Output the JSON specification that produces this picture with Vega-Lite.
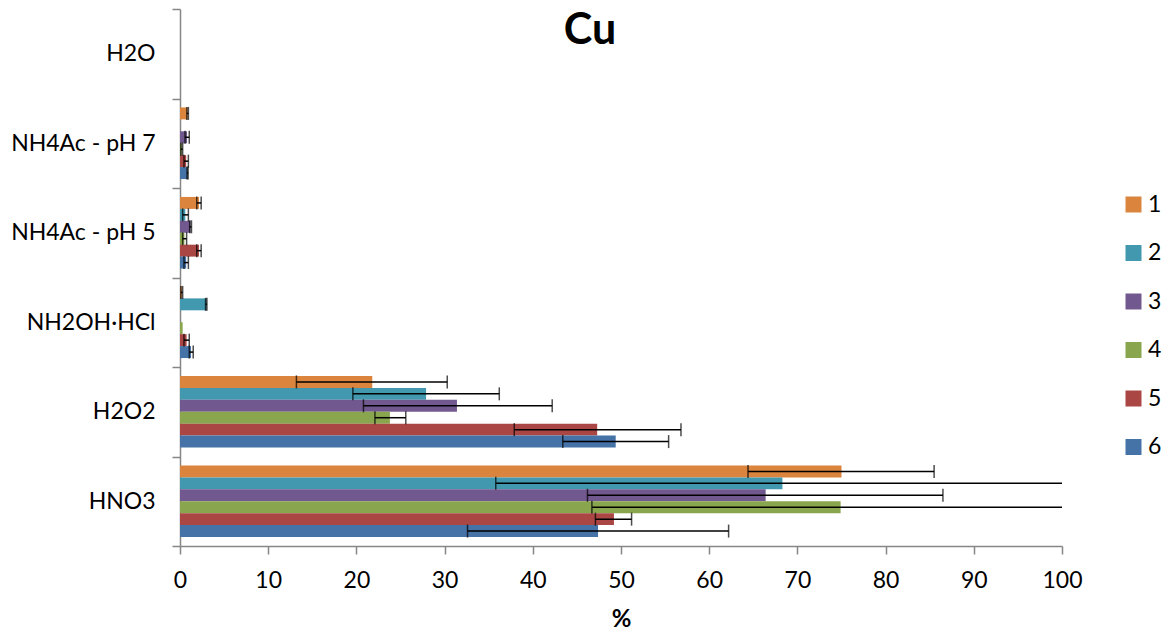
{
  "$schema": "https://vega.github.io/schema/vega-lite/v6.json",
  "width": 882,
  "height": 537,
  "autosize": {"type": "none"},
  "padding": {"left": 180, "top": 9, "right": 106, "bottom": 89},
  "background": "white",
  "config": {"view": {"stroke": null}, "font": "Lato"},
  "title": {"text": "Cu", "font": "Lato", "fontSize": 43, "fontWeight": "bold", "color": "#000000", "anchor": "middle", "offset": 0, "baseline": "alphabetic", "dx": -31, "dy": 89},
  "data": {
    "values": [
      {"category": "H2O", "series": "1", "value": 0},
      {"category": "H2O", "series": "2", "value": 0},
      {"category": "H2O", "series": "3", "value": 0},
      {"category": "H2O", "series": "4", "value": 0},
      {"category": "H2O", "series": "5", "value": 0},
      {"category": "H2O", "series": "6", "value": 0},
      {"category": "NH4Ac - pH 7", "series": "1", "value": 0.85, "lo": 0.78, "hi": 0.95},
      {"category": "NH4Ac - pH 7", "series": "2", "value": 0},
      {"category": "NH4Ac - pH 7", "series": "3", "value": 0.8, "lo": 0.57, "hi": 1.05},
      {"category": "NH4Ac - pH 7", "series": "4", "value": 0.2, "lo": 0.1, "hi": 0.3},
      {"category": "NH4Ac - pH 7", "series": "5", "value": 0.7, "lo": 0.45, "hi": 0.95},
      {"category": "NH4Ac - pH 7", "series": "6", "value": 0.85, "lo": 0.8, "hi": 0.92},
      {"category": "NH4Ac - pH 5", "series": "1", "value": 2.15, "lo": 1.9, "hi": 2.4},
      {"category": "NH4Ac - pH 5", "series": "2", "value": 0.6, "lo": 0.3, "hi": 0.95},
      {"category": "NH4Ac - pH 5", "series": "3", "value": 1.2, "lo": 1.1, "hi": 1.3},
      {"category": "NH4Ac - pH 5", "series": "4", "value": 0.5, "lo": 0.3, "hi": 0.75},
      {"category": "NH4Ac - pH 5", "series": "5", "value": 2.15, "lo": 1.9, "hi": 2.4},
      {"category": "NH4Ac - pH 5", "series": "6", "value": 0.7, "lo": 0.45, "hi": 0.95},
      {"category": "NH2OH·HCl", "series": "1", "value": 0.2, "lo": 0.1, "hi": 0.3},
      {"category": "NH2OH·HCl", "series": "2", "value": 3.0, "lo": 2.9, "hi": 3.05},
      {"category": "NH2OH·HCl", "series": "3", "value": 0},
      {"category": "NH2OH·HCl", "series": "4", "value": 0.3},
      {"category": "NH2OH·HCl", "series": "5", "value": 0.75, "lo": 0.45, "hi": 1.05},
      {"category": "NH2OH·HCl", "series": "6", "value": 1.25, "lo": 1.05, "hi": 1.5},
      {"category": "H2O2", "series": "1", "value": 21.8, "lo": 13.2, "hi": 30.3},
      {"category": "H2O2", "series": "2", "value": 27.9, "lo": 19.6, "hi": 36.2},
      {"category": "H2O2", "series": "3", "value": 31.4, "lo": 20.8, "hi": 42.2},
      {"category": "H2O2", "series": "4", "value": 23.8, "lo": 22.1, "hi": 25.6},
      {"category": "H2O2", "series": "5", "value": 47.3, "lo": 37.9, "hi": 56.8},
      {"category": "H2O2", "series": "6", "value": 49.4, "lo": 43.4, "hi": 55.4},
      {"category": "HNO3", "series": "1", "value": 75.0, "lo": 64.4, "hi": 85.5},
      {"category": "HNO3", "series": "2", "value": 68.3, "lo": 35.8, "hi": 100.8},
      {"category": "HNO3", "series": "3", "value": 66.4, "lo": 46.2, "hi": 86.5},
      {"category": "HNO3", "series": "4", "value": 74.9, "lo": 46.7, "hi": 103.1},
      {"category": "HNO3", "series": "5", "value": 49.2, "lo": 47.1, "hi": 51.2},
      {"category": "HNO3", "series": "6", "value": 47.4, "lo": 32.6, "hi": 62.2}
    ]
  },
  "encoding": {
    "y": {
      "field": "category",
      "type": "nominal",
      "title": null,
      "scale": {"domain": ["H2O", "NH4Ac - pH 7", "NH4Ac - pH 5", "NH2OH·HCl", "H2O2", "HNO3"], "paddingInner": 0, "paddingOuter": 0},
      "axis": {"tickBand": "extent", "tickSize": 8, "tickColor": "#868686", "domainColor": "#868686", "domainWidth": 1.5, "tickWidth": 1.5, "labelFont": "Lato", "labelFontSize": 23, "labelColor": "#000000", "labelPadding": 17, "labelLimit": 300}
    },
    "yOffset": {
      "field": "series",
      "type": "nominal",
      "scale": {"domain": ["1", "2", "3", "4", "5", "6"], "paddingInner": 0, "paddingOuter": 0.75}
    }
  },
  "layer": [
    {
      "mark": {"type": "bar"},
      "encoding": {
        "x": {
          "field": "value",
          "type": "quantitative",
          "title": "%",
          "scale": {"domain": [0, 100], "nice": false},
          "axis": {"values": [0, 10, 20, 30, 40, 50, 60, 70, 80, 90, 100], "grid": false, "tickSize": 8, "tickColor": "#868686", "domainColor": "#868686", "domainWidth": 1.5, "tickWidth": 1.5, "labelFont": "Lato", "labelFontSize": 23, "labelColor": "#000000", "labelPadding": 15, "labelFlush": false, "titleFont": "Lato", "titleFontSize": 24, "titleFontWeight": "bold", "titleColor": "#000000", "titlePadding": 15}
        },
        "color": {
          "field": "series",
          "type": "nominal",
          "scale": {"domain": ["1", "2", "3", "4", "5", "6"], "range": ["#DB843D", "#4198AF", "#71588F", "#89A54E", "#AA4643", "#4572A7"]},
          "legend": {"orient": "none", "legendX": 942, "legendY": 184, "title": null, "symbolType": "square", "symbolSize": 256, "symbolStrokeWidth": 0, "labelFont": "Lato", "labelFontSize": 23, "labelColor": "#000000", "rowPadding": 24.5, "labelOffset": 3}
        }
      }
    },
    {
      "mark": {"type": "rule", "color": "black", "strokeWidth": 1.5, "clip": true},
      "encoding": {
        "x": {"field": "lo", "type": "quantitative", "title": "%"},
        "x2": {"field": "hi"}
      }
    },
    {
      "mark": {"type": "tick", "color": "black", "thickness": 1.5, "size": 13, "clip": true},
      "encoding": {"x": {"field": "lo", "type": "quantitative", "title": "%"}}
    },
    {
      "mark": {"type": "tick", "color": "black", "thickness": 1.5, "size": 13, "clip": true},
      "encoding": {"x": {"field": "hi", "type": "quantitative", "title": "%"}}
    }
  ]
}
